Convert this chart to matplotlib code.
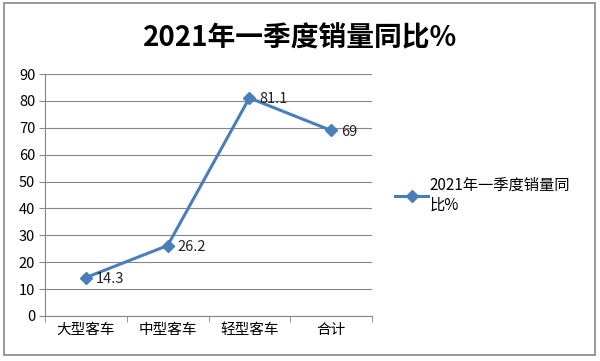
import matplotlib
matplotlib.use("Agg")
import matplotlib.pyplot as plt
from matplotlib.patches import Rectangle

plt.rcParams['font.family'] = ['Noto Sans CJK SC', 'DejaVu Sans']

categories = ["大型客车", "中型客车", "轻型客车", "合计"]
values = [14.3, 26.2, 81.1, 69]
value_labels = ["14.3", "26.2", "81.1", "69"]
series_name = "2021年一季度销量同\n比%"
title = "2021年一季度销量同比%"
yticks = [0, 10, 20, 30, 40, 50, 60, 70, 80, 90]

color = "#4A7EBB"
gray = "#868686"

fig = plt.figure(figsize=(6, 3.61), dpi=100)
fig.patches.append(Rectangle((0.007, 0.017), 0.985, 0.975, transform=fig.transFigure,
                             fill=False, edgecolor=gray, linewidth=1.2))
ax = fig.add_axes([0.075, 0.1247, 0.545, 0.6703])

x = list(range(len(categories)))
line, = ax.plot(x, values, color=color, linewidth=2.2, marker='D', markersize=6,
                label=series_name)
for xi, v, lab in zip(x, values, value_labels):
    ax.annotate(lab, (xi, v), xytext=(7, -1), textcoords='offset points',
                ha='left', va='center', fontsize=10.5, color='#222222')

ax.set_xlim(-0.5, len(categories) - 0.5)
ax.set_ylim(0, 90)
ax.set_yticks(yticks)
ax.set_yticklabels([str(t) for t in yticks], fontsize=10.5)
ax.set_xticks(x)
ax.set_xticklabels(categories, fontsize=10.5)
ax.set_xticks([i - 0.5 for i in range(len(categories) + 1)], minor=True)
ax.tick_params(axis='x', which='major', length=0, pad=5)
ax.tick_params(axis='x', which='minor', length=4, color=gray, direction='out')
ax.tick_params(axis='y', length=4, color=gray, direction='out', pad=3)
ax.yaxis.grid(True, color=gray, linewidth=0.8)
ax.set_axisbelow(True)
for s in ['top', 'right']:
    ax.spines[s].set_visible(False)
for s in ['left', 'bottom']:
    ax.spines[s].set_color(gray)
    ax.spines[s].set_linewidth(0.8)

fig.text(0.5, 0.895, title, ha='center', va='center', fontsize=20, fontweight='bold')

fig.legend(handles=[line], labels=[series_name], loc='center left',
           bbox_to_anchor=(0.635, 0.46), frameon=False, fontsize=11,
           handlelength=2.2, handletextpad=0.1, labelspacing=0.2)

fig.savefig("out.png", dpi=100)
